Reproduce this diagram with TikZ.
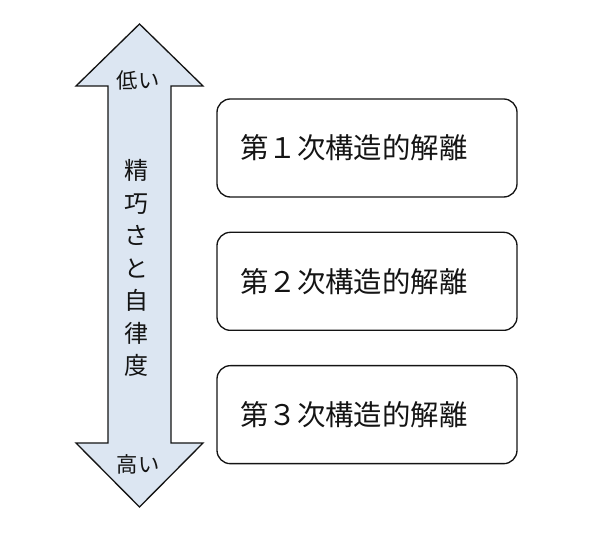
\documentclass[tikz,border=0pt]{standalone}
\usepackage{fontspec}
\newfontfamily\jp{Noto Sans CJK JP}
\usetikzlibrary{positioning}
\definecolor{ink}{RGB}{20,20,20}
\definecolor{paleblue}{RGB}{220,230,242}
\tikzset{
  every picture/.style={color=ink, line width=1pt},
  node distance=25.5pt,
  stage/.style={draw=ink, rounded corners=10pt, fill=white, minimum width=225pt, minimum height=73.5pt,
    text width=190pt, align=left, inner xsep=17pt, font=\jp\fontsize{21.3}{24}\selectfont},
  tip/.style={font=\jp\fontsize{16}{18}\selectfont, inner sep=0pt},
  axis/.style={font=\jp\fontsize{18}{24.4}\selectfont, align=center, inner sep=0pt},
  band/.style={draw=ink, fill=paleblue, line join=miter},
}

\begin{document}
\begin{tikzpicture}[x=0.75pt, y=-0.75pt]
  \useasboundingbox (0,0) rectangle (600,534);
  % double arrow
  \draw[band] (139.5,24) -- (203,86) -- (171,86) -- (171,443) -- (203,443) -- (139.5,507)
    -- (76,443) -- (108,443) -- (108,86) -- (76,86) -- cycle;
  \node[tip] (low) at (138,80) {低い};
  \node[tip] (high) at (138,464) {高い};
  \node[axis] (scale) at (136,268) {精\\巧\\さ\\と\\自\\律\\度};
  % stages
  \node[stage] (s1) at (367,148) {第１次構造的解離};
  \node[stage, below=of s1] (s2) {第２次構造的解離};
  \node[stage, below=of s2] (s3) {第３次構造的解離};
\end{tikzpicture}
\end{document}
